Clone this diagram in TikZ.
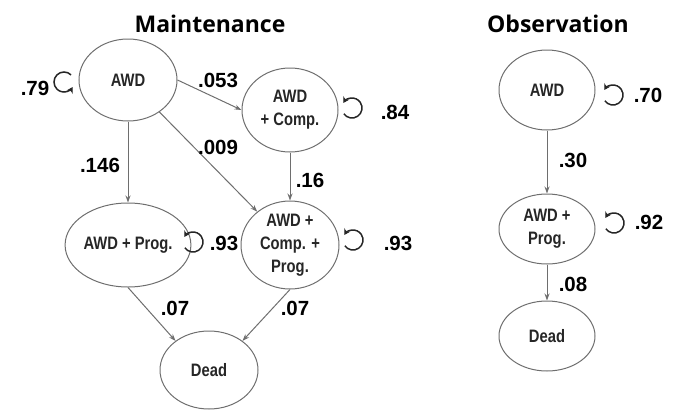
\documentclass[tikz,border=0pt]{standalone}
\usepackage{fontspec}
\setmainfont{Liberation Sans}
\newfontfamily\narrowfont[FakeStretch=0.82]{Liberation Sans}
\newfontfamily\titlefont{Open Sans}
\usetikzlibrary{arrows.meta}
\definecolor{edgegray}{HTML}{6E6E6E}
\tikzset{
  x=1pt,y=1pt,
  state/.style={ellipse, draw=edgegray, line width=1pt, inner sep=0pt, align=center,
     font=\narrowfont\bfseries\fontsize{18}{23}\selectfont, text=black!85},
  trans/.style={draw=edgegray, line width=1pt, -{Stealth[length=7pt,width=5pt]}},
  loopy/.style={draw=black!85, line width=1.5pt, -{Stealth[length=6pt,width=7pt]}},
  prob/.style={font=\bfseries\fontsize{20.5}{22}\selectfont, text=black},
  ttl/.style={font=\titlefont\bfseries\fontsize{23}{25}\selectfont, text=black},
}
\usetikzlibrary{shapes.geometric}
\begin{document}
\begin{tikzpicture}
\useasboundingbox (0,0) rectangle (678,-410);
% titles
\node[ttl] (tM) at (210,-24) {Maintenance};
\node[ttl] (tO) at (558,-24) {Observation};
% maintenance states
\node[state, minimum width=98, minimum height=82] (aM) at (128,-80) {AWD};
\node[state, minimum width=96, minimum height=84] (cM) at (290,-110) {AWD\\+ Comp.};
\node[state, minimum width=98, minimum height=84] (pM) at (128,-245) {AWD + Prog.};
\node[state, minimum width=98, minimum height=84] (cpM) at (290,-245) {AWD +\\Comp. +\\Prog.};
\node[state, minimum width=98, minimum height=78] (dM) at (209,-370) {Dead};
% observation states
\node[state, minimum width=96, minimum height=80] (aO) at (547,-90) {AWD};
\node[state, minimum width=96, minimum height=70] (pO) at (547,-229) {AWD +\\Prog.};
\node[state, minimum width=96, minimum height=70] (dO) at (547,-336) {Dead};
% transitions
\draw[trans] (aM.east) -- (cM.west);
\draw[trans] (aM.south) -- (pM.north);
\draw[trans] (aM) -- (cpM);
\draw[trans] (cM.south) -- (cpM.north);
\draw[trans] (pM.south) -- (dM.139);
\draw[trans] (cpM.south) -- (dM.41);
\draw[trans] (aO.south) -- (pO.north);
\draw[trans] (pO.south) -- (dO.north);
% self loops
\coordinate (lA) at (64,-82);
\coordinate (lC) at (352,-108);
\coordinate (lP) at (193,-242);
\coordinate (lCP) at (353,-240);
\coordinate (lAO) at (613,-95);
\coordinate (lPO) at (614,-223);
\draw[loopy] (lA) ++(45:10) arc[start angle=45, end angle=330, radius=10];
\draw[loopy] (lC) ++(-145:10) arc[start angle=-145, end angle=150, radius=10];
\draw[loopy] (lP) ++(-145:10) arc[start angle=-145, end angle=150, radius=10];
\draw[loopy] (lCP) ++(-145:10) arc[start angle=-145, end angle=150, radius=10];
\draw[loopy] (lAO) ++(-145:10) arc[start angle=-145, end angle=150, radius=10];
\draw[loopy] (lPO) ++(-145:10) arc[start angle=-145, end angle=150, radius=10];
% probabilities
\node[prob] (p79) at (35,-88) {.79};
\node[prob] (p053) at (218,-80) {.053};
\node[prob] (p146) at (100,-165) {.146};
\node[prob] (p009) at (218,-147) {.009};
\node[prob] (p16) at (310,-180) {.16};
\node[prob] (p93a) at (224,-243) {.93};
\node[prob] (p84) at (395,-112) {.84};
\node[prob] (p93b) at (398,-243) {.93};
\node[prob] (p07a) at (175,-308) {.07};
\node[prob] (p07b) at (295,-308) {.07};
\node[prob] (p70) at (648,-95) {.70};
\node[prob] (p30) at (573,-160) {.30};
\node[prob] (p92) at (649,-222) {.92};
\node[prob] (p08) at (573,-284) {.08};
\end{tikzpicture}
\end{document}
